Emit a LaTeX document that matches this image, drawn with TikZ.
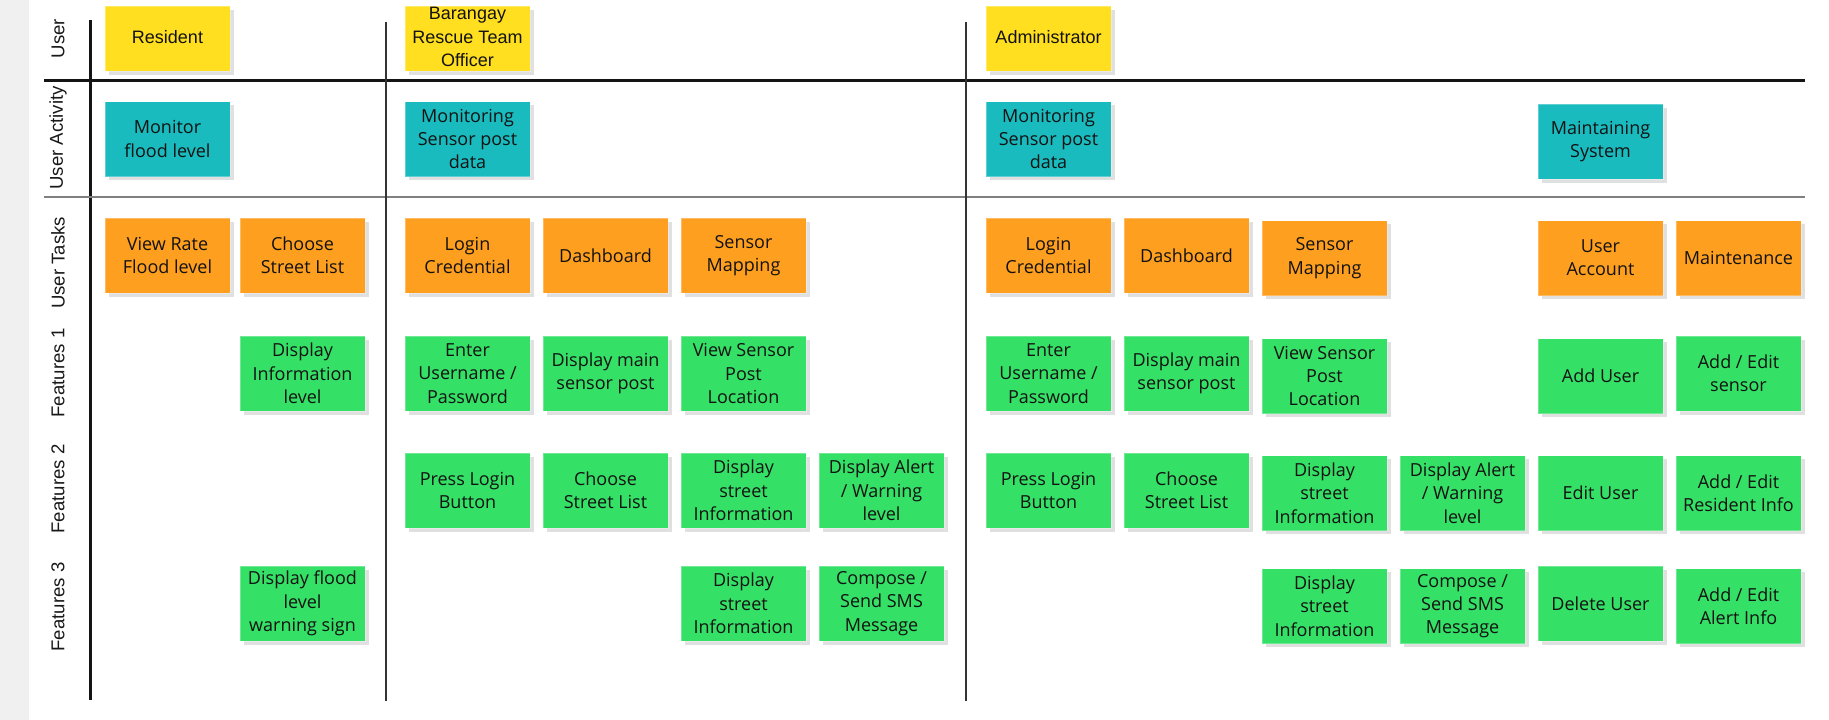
\documentclass[tikz,border=0pt]{standalone}
\usepackage{fontspec}
\setmainfont{Open Sans}
\newfontfamily\arialf{Liberation Sans}
\usetikzlibrary{shadows}
\definecolor{ynote}{HTML}{FFDF1F}
\definecolor{tnote}{HTML}{1ABBBF}
\definecolor{onote}{HTML}{FF9F1F}
\definecolor{gnote}{HTML}{35E066}
\definecolor{stripgray}{HTML}{F0F0F0}
\definecolor{divgray}{HTML}{808080}
\definecolor{thingray}{HTML}{333333}
\tikzset{
  note/.style={anchor=north west, minimum width=125pt, minimum height=75pt,
    inner sep=1pt, outer sep=0pt, align=center, font=\fontsize{18}{23.3}\selectfont, text=black!93,
    draw=white, draw opacity=0.3, line width=1pt,
    drop shadow={shadow xshift=3.5pt, shadow yshift=-3.5pt, fill=black!12, draw=none, opacity=1}},
  usernote/.style={note, fill=ynote, minimum height=65pt},
  usertext/.style={font=\arialf\fontsize{18}{23.3}\selectfont, align=center, text=black!93, inner sep=0pt},
  actnote/.style={note, fill=tnote},
  tasknote/.style={note, fill=onote},
  featnote/.style={note, fill=gnote},
  rowlabel/.style={rotate=90, font=\arialf\fontsize{18.6}{22}\selectfont, text=black!90},
  thickdiv/.style={line width=3pt, black!92},
  graydiv/.style={line width=2pt, divgray},
  thindiv/.style={line width=1.2pt, thingray},
}
\begin{document}
\begin{tikzpicture}[x=1pt,y=-1pt]
\useasboundingbox (0,0) rectangle (1829,720);
\fill[white] (0,0) rectangle (1829,720);
\fill[stripgray] (0,0) rectangle (29,720);

% divider lines
\draw[thickdiv] (90,20) -- (90,700);
\draw[thickdiv] (44,80.5) -- (1805,80.5);
\draw[graydiv] (44,197) -- (1805,197);
\draw[thindiv] (386,22) -- (386,701);
\draw[thindiv] (966,22) -- (966,701);

% row labels
\node[rowlabel] (lUser) at (58,38.5) {User};
\node[rowlabel] (lAct) at (58,138) {User Activity};
\node[rowlabel] (lTask) at (58,263) {User Tasks};
\node[rowlabel] (lF1) at (58,373) {Features 1};
\node[rowlabel] (lF2) at (58,489) {Features 2};
\node[rowlabel] (lF3) at (58,607) {Features 3};

% users
\node[usernote] (uRes) at (105,6) {};
\node[usertext] (uResT) at ([yshift=1.5pt]uRes.center) {Resident};
\node[usernote] (uBrt) at (405,6) {};
\node[usertext] (uBrtT) at ([yshift=1.5pt]uBrt.center) {Barangay\\Rescue Team\\Officer};
\node[usernote] (uAdm) at (986,6) {};
\node[usertext] (uAdmT) at ([yshift=1.5pt]uAdm.center) {Administrator};

% activities
\node[actnote] (aRes) at (105,101.5) {Monitor\\flood level};
\node[actnote] (aBrt) at (405,101.5) {Monitoring\\Sensor post\\data};
\node[actnote] (aAdm) at (986,101.5) {Monitoring\\Sensor post\\data};
\node[actnote] (aSys) at (1538,104) {Maintaining\\System};

% tasks
\node[tasknote] (tA) at (105,218) {View Rate\\Flood level};
\node[tasknote] (tB) at (240,218) {Choose\\Street List};
\node[tasknote] (tC) at (405,218) {Login\\Credential};
\node[tasknote] (tD) at (543,218) {Dashboard};
\node[tasknote] (tE) at (681,218) {Sensor\\Mapping};
\node[tasknote] (tG) at (986,218) {Login\\Credential};
\node[tasknote] (tH) at (1124,218) {Dashboard};
\node[tasknote] (tI) at (1262,220.5) {Sensor\\Mapping};
\node[tasknote] (tK) at (1538,220.5) {User\\Account};
\node[tasknote] (tL) at (1676,220.5) {Maintenance};

% features 1
\node[featnote] (fAB) at (240,336) {Display\\Information\\level};
\node[featnote] (fAC) at (405,336) {Enter\\Username /\\Password};
\node[featnote] (fAD) at (543,336) {Display main\\sensor post};
\node[featnote] (fAE) at (681,336) {View Sensor\\Post\\Location};
\node[featnote] (fAG) at (986,336) {Enter\\Username /\\Password};
\node[featnote] (fAH) at (1124,336) {Display main\\sensor post};
\node[featnote] (fAI) at (1262,338.5) {View Sensor\\Post\\Location};
\node[featnote] (fAK) at (1538,338.5) {Add User};
\node[featnote] (fAL) at (1676,336) {Add / Edit\\sensor};

% features 2
\node[featnote] (fBC) at (405,453) {Press Login\\Button};
\node[featnote] (fBD) at (543,453) {Choose\\Street List};
\node[featnote] (fBE) at (681,453) {Display\\street\\Information};
\node[featnote] (fBF) at (819,453) {Display Alert\\/ Warning\\level};
\node[featnote] (fBG) at (986,453) {Press Login\\Button};
\node[featnote] (fBH) at (1124,453) {Choose\\Street List};
\node[featnote] (fBI) at (1262,455.5) {Display\\street\\Information};
\node[featnote] (fBJ) at (1400,455.5) {Display Alert\\/ Warning\\level};
\node[featnote] (fBK) at (1538,455.5) {Edit User};
\node[featnote] (fBL) at (1676,455.5) {Add / Edit\\Resident Info};

% features 3
\node[featnote] (fCB) at (240,566) {Display flood\\level\\warning sign};
\node[featnote] (fCE) at (681,566) {Display\\street\\Information};
\node[featnote] (fCF) at (819,566) {Compose /\\Send SMS\\Message};
\node[featnote] (fCI) at (1262,568.5) {Display\\street\\Information};
\node[featnote] (fCJ) at (1400,568.5) {Compose /\\Send SMS\\Message};
\node[featnote] (fCK) at (1538,566) {Delete User};
\node[featnote] (fCL) at (1676,568.5) {Add / Edit\\Alert Info};
\end{tikzpicture}
\end{document}
